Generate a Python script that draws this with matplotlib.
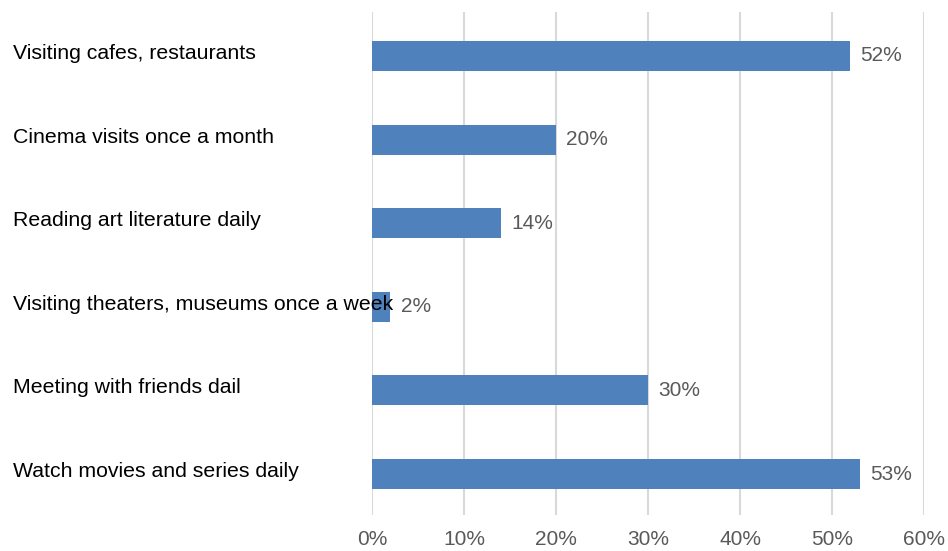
import matplotlib.pyplot as plt
from matplotlib.ticker import FuncFormatter
import matplotlib.transforms as mtransforms

plt.rcParams['font.family'] = ['Liberation Sans', 'DejaVu Sans']

categories = ['Watch movies and series daily', 'Meeting with friends dail',
              'Visiting theaters, museums once a week', 'Reading art literature daily',
              'Cinema visits once a month', 'Visiting cafes, restaurants']
values = [53, 30, 2, 14, 20, 52]
ticks = [0, 10, 20, 30, 40, 50, 60]

fig = plt.figure(figsize=(9.48, 5.51), dpi=100)
ax = fig.add_axes([372 / 948, 36 / 551, 552 / 948, 503 / 551])

ypos = range(len(categories))
ax.barh(ypos, values, height=0.36, color='#4f81bd', zorder=3)
for y, v in zip(ypos, values):
    ax.text(v + 1.1, y, f'{v}%', va='center', ha='left', fontsize=15, color='#595959')

trans = mtransforms.blended_transform_factory(fig.transFigure, ax.transData)
for y, c in zip(ypos, categories):
    ax.text(0.014, y + 0.03, c, transform=trans, ha='left', va='center',
            fontsize=15.3, color='#000000')

ax.set_xlim(0, 60)
ax.set_ylim(-0.49, 5.526)
ax.set_xticks(ticks)
ax.xaxis.set_major_formatter(FuncFormatter(lambda x, p: f'{x:.0f}%'))
ax.tick_params(axis='x', length=0, labelsize=15, labelcolor='#595959', pad=11)
ax.set_yticks([])
ax.grid(axis='x', color='#d9d9d9', linewidth=1.5, zorder=0)
for s in ax.spines.values():
    s.set_visible(False)

fig.savefig('out.png', dpi=100)
